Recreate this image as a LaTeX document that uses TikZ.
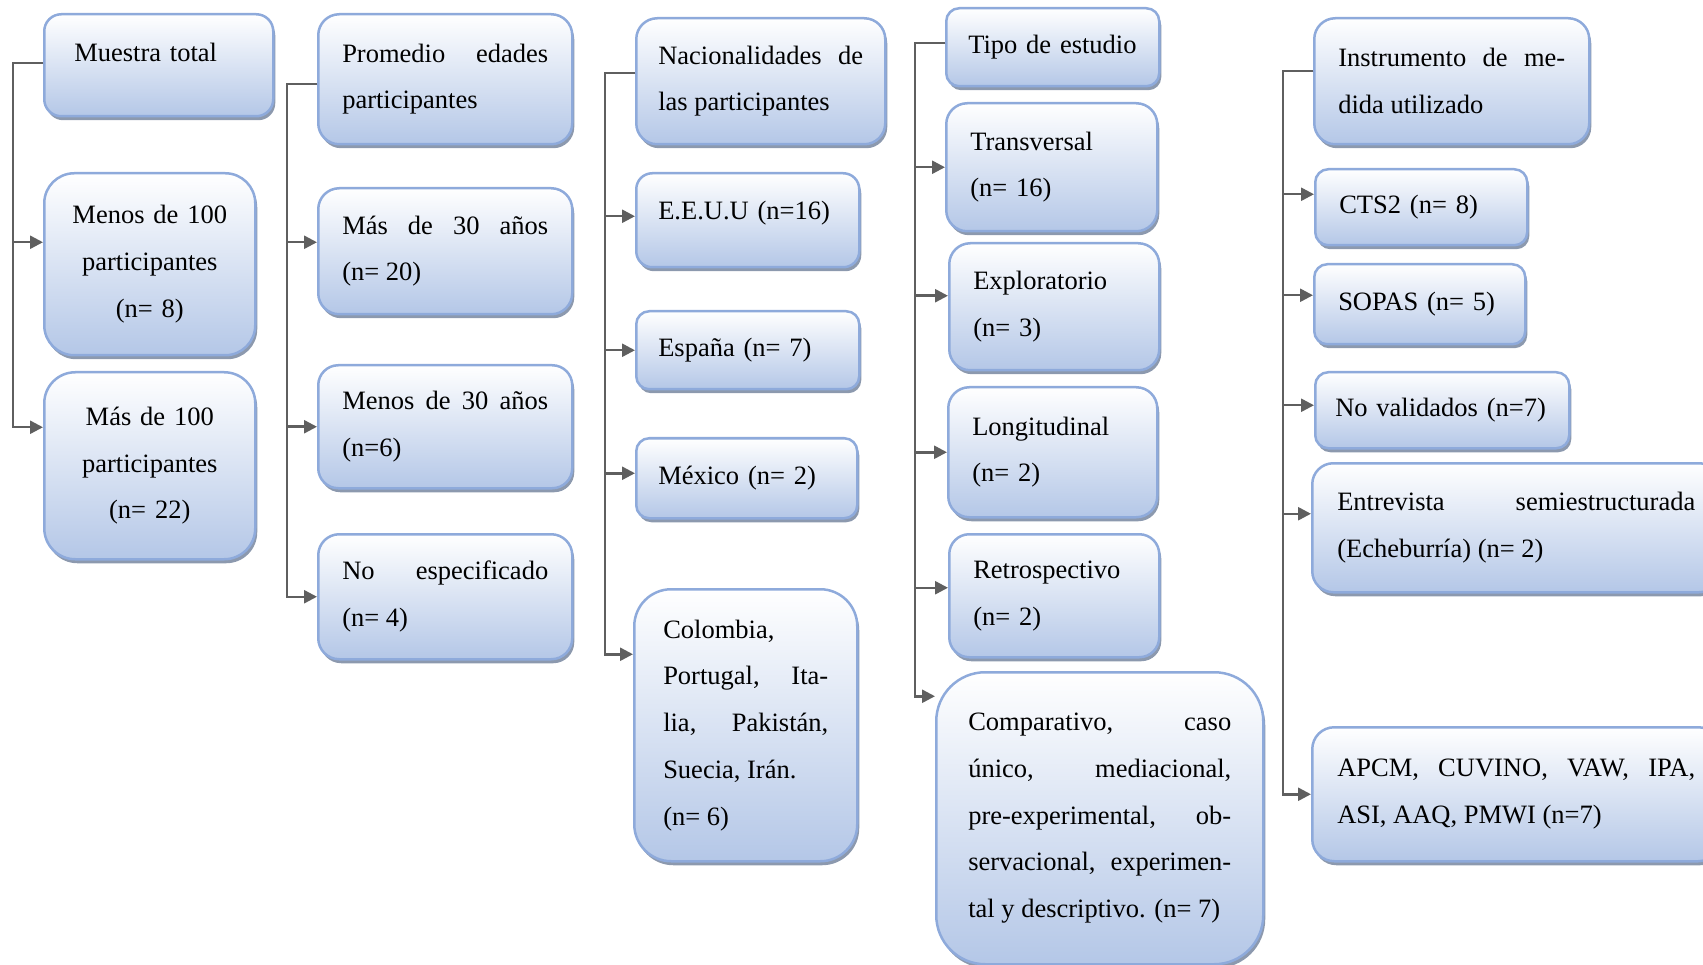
\documentclass[tikz,border=0pt]{standalone}
\usepackage{fontspec}
\setmainfont{Liberation Serif}
\usetikzlibrary{arrows.meta,shadows}
\definecolor{bordeazul}{HTML}{8EAADB}
\definecolor{fondoazul}{HTML}{B4C7E7}
\definecolor{sombra}{HTML}{8C99AE}
\definecolor{conector}{HTML}{5F5F5F}

\begin{document}
\begin{tikzpicture}[x=1pt, y=-1pt]
	\tikzstyle{every node}=[font=\fontsize{26.5pt}{46.7pt}\selectfont]
	\tikzstyle{caja}=[draw=bordeazul, line width=2.5pt, top color=white, bottom color=fondoazul, drop shadow={shadow xshift=2pt, shadow yshift=-4pt, fill=sombra, opacity=1}, anchor=north west, inner xsep=24pt, inner ysep=0pt, align=justify]
	\tikzstyle{flecha}=[draw=conector, line width=2.5pt, -{Triangle[length=13pt,width=13pt]}]
	\useasboundingbox (0,0) rectangle (1703,965);

	% muestra
	\node[caja, inner xsep=30pt, text width=169pt, minimum height=102pt, rounded corners=17pt, align=left, text depth=26pt] (m1) at (43,13) {Muestra total};
	\node[caja, text width=163pt, minimum height=182pt, rounded corners=30pt, align=center] (m2) at (43,172) {Menos de 100\\ participantes\\ (n= 8)};
	\node[caja, text width=163pt, minimum height=187pt, rounded corners=31pt, align=center] (m3) at (43,371) {Más de 100\\ participantes\\ (n= 22)};

	% edades
	\node[caja, text width=206pt, minimum height=130pt, rounded corners=21pt] (p1) at (317,13) {Promedio edades\linebreak participantes};
	\node[caja, text width=206pt, minimum height=126pt, rounded corners=21pt] (p2) at (317,187) {Más de 30 años\linebreak (n= 20)};
	\node[caja, text width=206pt, minimum height=123pt, rounded corners=20pt] (p3) at (317,364) {Menos de 30 años\linebreak (n=6)};
	\node[caja, text width=206pt, minimum height=125pt, rounded corners=21pt] (p4) at (317,533) {No especificado\linebreak (n= 4)};

	% nacionalidades
	\node[caja, inner xsep=22pt, text width=205pt, minimum height=126pt, rounded corners=21pt] (n1) at (635,17) {Nacionalidades de\linebreak las participantes};
	\node[caja, inner xsep=22pt, text width=179pt, minimum height=94pt, rounded corners=16pt, align=left, text depth=20pt] (n2) at (635,172) {E.E.U.U (n=16)};
	\node[caja, inner xsep=22pt, text width=179pt, minimum height=78pt, rounded corners=13pt, align=left] (n3) at (635,310) {España (n= 7)};
	\node[caja, inner xsep=22pt, text width=177pt, minimum height=80pt, rounded corners=13pt, align=left] (n4) at (635,437) {México (n= 2)};
	\node[caja, inner xsep=29pt, text width=165pt, minimum height=272pt, rounded corners=37pt] (n5) at (633,588) {Colombia,\\ Portugal, Ita-\linebreak lia, Pakistán,\linebreak Suecia, Irán.\\ (n= 6)};

	% tipo de estudio
	\node[caja, inner xsep=22pt, text width=169pt, minimum height=78pt, rounded corners=13pt, align=left] (t1) at (945,7) {Tipo de estudio};
	\node[caja, text width=163pt, minimum height=128pt, rounded corners=21pt, align=left] (t2) at (945,102) {Transversal\\ (n= 16)};
	\node[caja, text width=162pt, minimum height=127pt, rounded corners=21pt, align=left] (t3) at (948,242) {Exploratorio\\ (n= 3)};
	\node[caja, text width=161pt, minimum height=130pt, rounded corners=21pt, align=left] (t4) at (947,386) {Longitudinal\\ (n= 2)};
	\node[caja, text width=162pt, minimum height=123pt, rounded corners=20pt, align=left] (t5) at (948,533) {Retrospectivo\\ (n= 2)};
	\node[caja, inner xsep=32pt, text width=263pt, minimum height=292pt, rounded corners=49pt] (t6) at (935,671) {Comparativo, caso\linebreak único, mediacional,\linebreak pre-experimental, ob-\linebreak servacional, experimen-\linebreak tal y descriptivo. (n= 7)};

	% instrumentos
	\node[caja, text width=227pt, minimum height=126pt, rounded corners=21pt] (i1) at (1313,17) {Instrumento de me-\linebreak dida utilizado};
	\node[caja, text width=164pt, minimum height=76pt, rounded corners=13pt, align=left] (i2) at (1314,168) {CTS2 (n= 8)};
	\node[caja, text width=163pt, minimum height=80pt, rounded corners=13pt, align=left] (i3) at (1313,263) {SOPAS (n= 5)};
	\node[caja, inner xsep=20pt, text width=214pt, minimum height=76pt, rounded corners=13pt, align=left] (i4) at (1314,371) {No validados (n=7)};
	\node[caja, inner xsep=25pt, text width=358pt, minimum height=129pt, rounded corners=21pt] (i5) at (1311,462) {Entrevista semiestructurada\linebreak (Echeburría) (n= 2)};
	\node[caja, inner xsep=25pt, text width=358pt, minimum height=134pt, rounded corners=22pt] (i6) at (1311,726) {APCM, CUVINO, VAW, IPA,\linebreak ASI, AAQ, PMWI (n=7)};

	% conectores
	\foreach \hijo/\dy in {m2/22, m3/38.5}
		\draw[flecha] ([yshift=2pt]m1.west) -- ++(-30,0) |- ([yshift=\dy pt]\hijo.west);
	\foreach \hijo/\dy in {p2/9, p3/0, p4/0}
		\draw[flecha] ([yshift=-5pt]p1.west) -- ++(-30,0) |- ([yshift=\dy pt]\hijo.west);
	\foreach \hijo/\dy in {n2/4, n3/0, n4/5, n5/71}
		\draw[flecha] ([yshift=8pt]n1.west) -- ++(-30,0) |- ([yshift=\dy pt]\hijo.west);
	\foreach \hijo/\dy in {t2/0, t3/11, t4/0, t5/8, t6/122}
		\draw[flecha] ([yshift=4pt]t1.west) -- ++(-30,0) |- ([yshift=\dy pt]\hijo.west);
	\foreach \hijo/\dy in {i2/13, i3/9, i4/5, i5/14, i6/0}
		\draw[flecha] ([yshift=10pt]i1.west) -- ++(-30,0) |- ([yshift=\dy pt]\hijo.west);
\end{tikzpicture}
\end{document}
